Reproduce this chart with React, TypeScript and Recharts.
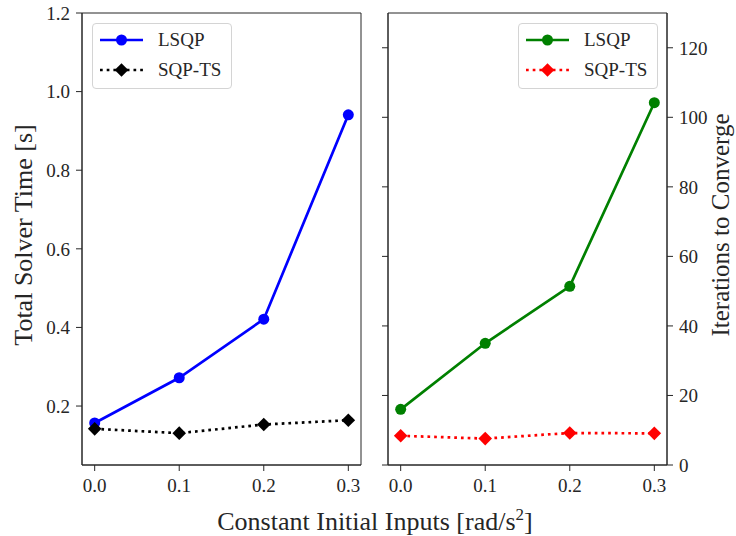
import { LineChart, Line, XAxis, YAxis, Legend, ReferenceArea } from "recharts";

// Constant initial input levels [rad/s^2]
const inputs = [0.0, 0.1, 0.2, 0.3];

// Total solver time [s]
const lsqpTime = [0.157, 0.272, 0.421, 0.941];
const sqpTsTime = [0.142, 0.131, 0.153, 0.164];

// Iterations to converge
const lsqpIters = [16, 35, 51.4, 104.2];
const sqpTsIters = [8.4, 7.6, 9.2, 9.1];

const xTicks = [0.0, 0.1, 0.2, 0.3];
const timeTicks = [0.2, 0.4, 0.6, 0.8, 1.0, 1.2];
const iterTicks = [0, 20, 40, 60, 80, 100, 120];

const timeData = inputs.map((x, i) => ({ x, lsqp: lsqpTime[i], sqpts: sqpTsTime[i] }));
const iterData = inputs.map((x, i) => ({ x, lsqp: lsqpIters[i], sqpts: sqpTsIters[i] }));

const FONT = '"Liberation Serif", "Times New Roman", serif';
const INK = "#262626";
const X_DOMAIN: [number, number] = [-0.015, 0.315];
const TIME_DOMAIN: [number, number] = [0.05, 1.2];
const ITER_DOMAIN: [number, number] = [0, 130];

const tickStyle = { fontFamily: FONT, fontSize: 19, fill: INK };

type Item = { name: string; color: string; dashed: boolean; marker: "circle" | "diamond" };

const timeLegend: Item[] = [
  { name: "LSQP", color: "#0000ff", dashed: false, marker: "circle" },
  { name: "SQP-TS", color: "#000000", dashed: true, marker: "diamond" },
];
const iterLegend: Item[] = [
  { name: "LSQP", color: "#008000", dashed: false, marker: "circle" },
  { name: "SQP-TS", color: "#ff0000", dashed: true, marker: "diamond" },
];

const LINE_W = 2.7;
const DOTTED = "2.7 4";

const diamondPoints = (cx: number, cy: number, s: number) =>
  `${cx},${cy - s} ${cx + s},${cy} ${cx},${cy + s} ${cx - s},${cy}`;

const diamondDot = (color: string) => (props: any) => {
  const { cx, cy, index } = props;
  if (cx == null || cy == null) return <g key={index} />;
  return <polygon key={index} points={diamondPoints(cx, cy, 6.8)} fill={color} />;
};

// no label: the inner y axis of the right panel only shows its tick marks
const noLabel = (props: any) => <g key={props.index} />;

function LegendBox({ items }: { items: Item[] }) {
  return (
    <div
      style={{
        width: 138,
        height: 63,
        border: "1px solid #d4d4d4",
        borderRadius: 4,
        background: "rgba(255,255,255,0.85)",
        paddingTop: 1,
        fontFamily: FONT,
        fontSize: 19,
        color: INK,
      }}
    >
      {items.map((it) => (
        <div key={it.name} style={{ display: "flex", alignItems: "center", height: 30 }}>
          <svg width={43} height={16} style={{ marginLeft: 7, marginRight: 15 }}>
            <line
              x1={0}
              y1={8}
              x2={43}
              y2={8}
              stroke={it.color}
              strokeWidth={LINE_W}
              strokeDasharray={it.dashed ? DOTTED : undefined}
            />
            {it.marker === "circle" ? (
              <circle cx={21.5} cy={8} r={5.5} fill={it.color} />
            ) : (
              <polygon points={diamondPoints(21.5, 8, 6.8)} fill={it.color} />
            )}
          </svg>
          <span>{it.name}</span>
        </div>
      ))}
    </div>
  );
}

function TimePanel() {
  return (
    <LineChart width={370} height={536} data={timeData} margin={{ top: 13, right: 9, bottom: 0, left: 0 }}>
      <XAxis
        dataKey="x"
        type="number"
        domain={X_DOMAIN}
        ticks={xTicks}
        tickFormatter={(v: number) => v.toFixed(1)}
        height={71}
        tickSize={6}
        tickMargin={8}
        tick={tickStyle}
        stroke={INK}
        allowDataOverflow
      />
      <YAxis
        type="number"
        domain={TIME_DOMAIN}
        ticks={timeTicks}
        tickFormatter={(v: number) => v.toFixed(1)}
        width={82}
        tickSize={6}
        tickMargin={6}
        tick={tickStyle}
        stroke={INK}
        allowDataOverflow
      />
      <ReferenceArea
        x1={X_DOMAIN[0]}
        x2={X_DOMAIN[1]}
        y1={TIME_DOMAIN[0]}
        y2={TIME_DOMAIN[1]}
        fill="none"
        stroke={INK}
        strokeWidth={1}
        ifOverflow="visible"
      />
      <Legend
        layout="vertical"
        align="center"
        verticalAlign="middle"
        wrapperStyle={{ left: 92, top: 23, width: 140 }}
        content={() => <LegendBox items={timeLegend} />}
      />
      <Line
        dataKey="lsqp"
        name="LSQP"
        stroke="#0000ff"
        strokeWidth={LINE_W}
        dot={{ r: 5.5, fill: "#0000ff", stroke: "#0000ff", strokeWidth: 0 }}
        isAnimationActive={false}
      />
      <Line
        dataKey="sqpts"
        name="SQP-TS"
        stroke="#000000"
        strokeWidth={LINE_W}
        strokeDasharray={DOTTED}
        dot={diamondDot("#000000")}
        isAnimationActive={false}
      />
    </LineChart>
  );
}

// Both y axes share the 0..130 domain; each carries one series so that both draw their ticks.
function IterPanel() {
  return (
    <LineChart width={366} height={536} data={iterData} margin={{ top: 13, right: 0, bottom: 0, left: 0 }}>
      <XAxis
        dataKey="x"
        type="number"
        domain={X_DOMAIN}
        ticks={xTicks}
        tickFormatter={(v: number) => v.toFixed(1)}
        height={71}
        tickSize={6}
        tickMargin={8}
        tick={tickStyle}
        stroke={INK}
        allowDataOverflow
      />
      <YAxis
        yAxisId="mirror"
        orientation="left"
        type="number"
        domain={ITER_DOMAIN}
        ticks={iterTicks}
        interval={0}
        width={18}
        tickSize={6}
        tick={noLabel}
        stroke={INK}
        allowDataOverflow
      />
      <YAxis
        yAxisId="iters"
        orientation="right"
        type="number"
        domain={ITER_DOMAIN}
        ticks={iterTicks}
        interval={0}
        width={69}
        tickSize={6}
        tickMargin={6}
        tick={tickStyle}
        stroke={INK}
        allowDataOverflow
      />
      <ReferenceArea
        yAxisId="iters"
        x1={X_DOMAIN[0]}
        x2={X_DOMAIN[1]}
        y1={ITER_DOMAIN[0]}
        y2={ITER_DOMAIN[1]}
        fill="none"
        stroke={INK}
        strokeWidth={1}
        ifOverflow="visible"
      />
      <Legend
        layout="vertical"
        align="center"
        verticalAlign="middle"
        wrapperStyle={{ left: 148, top: 23, width: 140 }}
        content={() => <LegendBox items={iterLegend} />}
      />
      <Line
        yAxisId="mirror"
        dataKey="lsqp"
        name="LSQP"
        stroke="#008000"
        strokeWidth={LINE_W}
        dot={{ r: 5.5, fill: "#008000", stroke: "#008000", strokeWidth: 0 }}
        isAnimationActive={false}
      />
      <Line
        yAxisId="iters"
        dataKey="sqpts"
        name="SQP-TS"
        stroke="#ff0000"
        strokeWidth={LINE_W}
        strokeDasharray={DOTTED}
        dot={diamondDot("#ff0000")}
        isAnimationActive={false}
      />
    </LineChart>
  );
}

export default function App() {
  return (
    <div
      style={{
        position: "absolute",
        left: 0,
        top: 0,
        width: 736,
        height: 536,
        background: "#fff",
        fontFamily: FONT,
      }}
    >
      <div style={{ position: "absolute", left: 0, top: 0 }}>
        <TimePanel />
      </div>
      <div style={{ position: "absolute", left: 370, top: 0 }}>
        <IterPanel />
      </div>
      <svg
        width={736}
        height={536}
        style={{ position: "absolute", left: 0, top: 0, pointerEvents: "none" }}
        fontFamily={FONT}
        fill={INK}
      >
        <text x={32} y={235} fontSize={26} textAnchor="middle" transform="rotate(-90 32 235)">
          Total Solver Time [s]
        </text>
        <text x={729} y={225} fontSize={25} textAnchor="middle" transform="rotate(-90 729 225)">
          Iterations to Converge
        </text>
        <text x={375} y={530} fontSize={26} textAnchor="middle">
          Constant Initial Inputs [rad/s<tspan dy={-10} fontSize={17}>2</tspan>
          <tspan dy={10}>]</tspan>
        </text>
      </svg>
    </div>
  );
}
